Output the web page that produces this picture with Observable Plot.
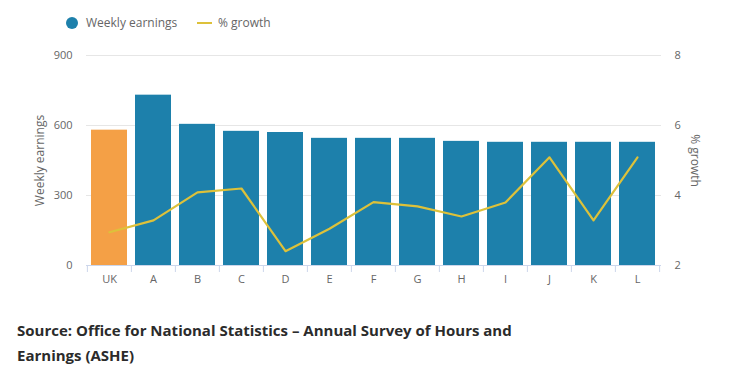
<!DOCTYPE html>
<html>
<head>
<meta charset="utf-8">
<script src="https://cdn.jsdelivr.net/npm/d3@7"></script>
<script src="https://cdn.jsdelivr.net/npm/@observablehq/plot@0.6"></script>
<style>
  html, body { margin: 0; padding: 0; background: #fff; }
  body { width: 748px; height: 387px; overflow: hidden; font-family: "Open Sans", sans-serif; }
  .legend { height: 40px; position: relative; font-size: 12px; color: #666; }
  .legend .dot { position: absolute; left: 66px; top: 17px; width: 12px; height: 12px; border-radius: 50%; background: #1d80ab; }
  .legend .t1 { position: absolute; left: 86px; top: 14px; line-height: 18px; }
  .legend .ln { position: absolute; left: 197px; top: 22px; width: 15px; height: 2px; background: #ddc13a; }
  .legend .t2 { position: absolute; left: 218px; top: 14px; line-height: 18px; }
  #chart svg { display: block; }
  .source { margin: 18px 0 0 17px; font-size: 15px; line-height: 25px; font-weight: 700; color: #2b2b2b; }
</style>
</head>
<body>
<div class="legend">
  <div class="dot"></div><div class="t1">Weekly earnings</div>
  <div class="ln"></div><div class="t2">% growth</div>
</div>
<div id="chart"></div>
<div class="source">Source: Office for National Statistics – Annual Survey of Hours and<br>Earnings (ASHE)</div>
<script>
const categories = ["UK", "A", "B", "C", "D", "E", "F", "G", "H", "I", "J", "K", "L"];
const weeklyEarnings = [580, 730, 605, 575, 570, 545, 545, 545, 532, 528, 528, 528, 528];
const growth = [2.95, 3.29, 4.09, 4.2, 2.41, 3.05, 3.81, 3.69, 3.4, 3.8, 5.09, 3.29, 5.09];
const leftTicks = [0, 300, 600, 900];
const rightTicks = [2, 4, 6, 8];

const data = categories.map((c, i) => ({ cat: c, earnings: weeklyEarnings[i], growth: growth[i] }));

// map growth (%) onto earnings scale: right axis 2..8 <-> left axis 0..900
const g2e = g => (g - rightTicks[0]) * (leftTicks[3] - leftTicks[0]) / (rightTicks[3] - rightTicks[0]);

const W = 748, H = 260, mL = 86, mR = 87, mT = 15, mB = 35;
const half = (W - mL - mR) / categories.length / 2;

const chart = Plot.plot({
  width: W,
  height: H,
  marginLeft: mL,
  marginRight: mR,
  marginTop: mT,
  marginBottom: mB,
  style: { fontFamily: "Open Sans, sans-serif", fontSize: "11px", color: "#666", background: "#fff" },
  x: { domain: categories, paddingInner: 0.18, paddingOuter: 0.09, label: null },
  y: { domain: [0, 900], label: null },
  marks: [
    Plot.ruleY(leftTicks.slice(1), { stroke: "#e6e6e6", strokeWidth: 1 }),
    Plot.barY(data, { x: "cat", y: "earnings", fill: d => d.cat === "UK" ? "#f4a046" : "#1d80ab" }),
    Plot.line(data, { x: "cat", y: d => g2e(d.growth), stroke: "#ddc13a", strokeWidth: 2.2, curve: "linear" }),
    Plot.ruleY([0], { stroke: "#ccd6eb" }),
    Plot.ruleX(categories, { x: d => d, dx: -half, y1: 0, y2: -30, stroke: "#ccd6eb" }),
    Plot.ruleX([categories[categories.length - 1]], { x: d => d, dx: half, y1: 0, y2: -30, stroke: "#ccd6eb" }),
    Plot.axisX({ tickSize: 0, tickPadding: 10, label: null, fill: "#666", fontSize: 11 }),
    Plot.axisY({ anchor: "left", ticks: leftTicks, tickSize: 0, tickPadding: 14, label: null, fill: "#666" }),
    Plot.axisY({ anchor: "right", ticks: leftTicks, tickFormat: (d, i) => rightTicks[i], tickSize: 0, tickPadding: 13, label: null, fill: "#666" }),
    Plot.text(["Weekly earnings"], { frameAnchor: "left", textAnchor: "middle", dx: -46, rotate: -90, fill: "#666", fontSize: 12 }),
    Plot.text(["% growth"], { frameAnchor: "right", textAnchor: "middle", dx: 33, rotate: 90, fill: "#666", fontSize: 12 })
  ]
});
document.getElementById("chart").appendChild(chart);
</script>
</body>
</html>
